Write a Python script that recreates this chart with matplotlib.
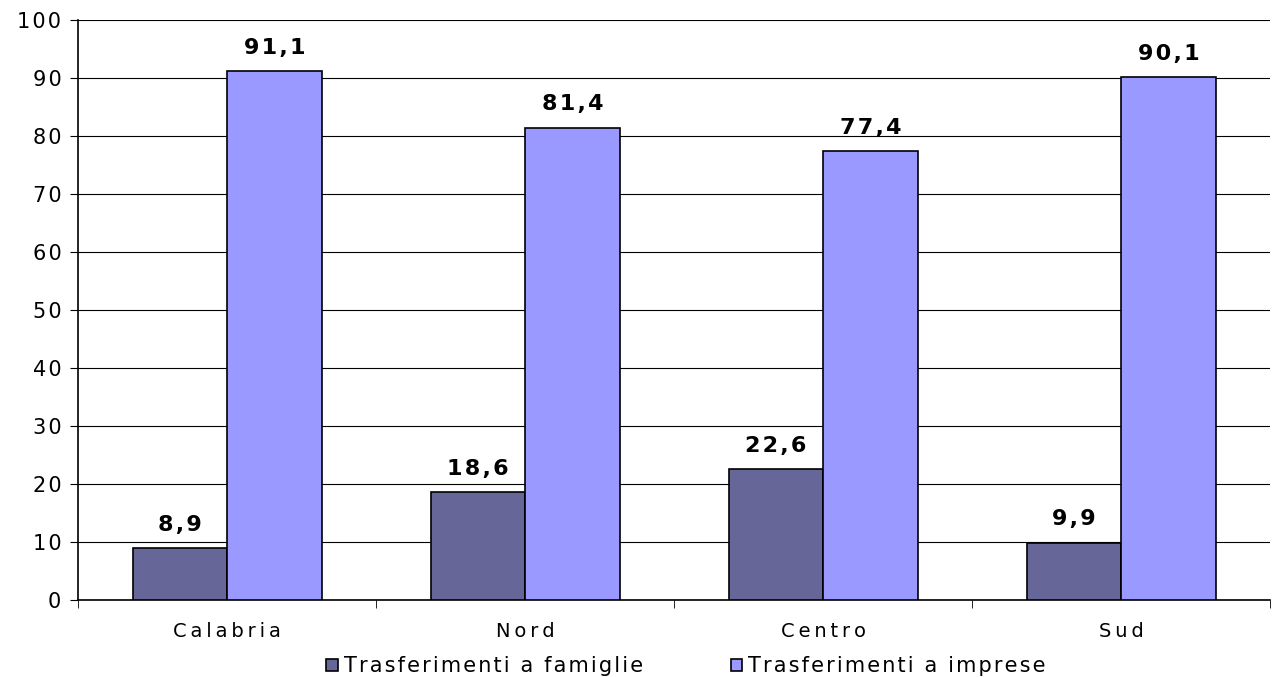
import numpy as np
import matplotlib
matplotlib.use("Agg")
import matplotlib.pyplot as plt

categories = ["Calabria", "Nord", "Centro", "Sud"]
famiglie = [8.9, 18.6, 22.6, 9.9]
imprese = [91.1, 81.4, 77.4, 90.1]
series_names = ["Trasferimenti a famiglie", "Trasferimenti a imprese"]

plt.rcParams['font.family'] = ['DejaVu Sans']


def spaced(s, sp='\u2009'):
    # the reference text is letter-spaced (Verdana-like)
    return sp.join(s)


fig = plt.figure(figsize=(12.73, 6.77), dpi=100)
ax = fig.add_axes([0.0613, 0.1137, 0.9365, 0.857])

x = np.arange(len(categories))
w = 0.317
b1 = ax.bar(x - w/2, famiglie, w, color='#666699', edgecolor='black', linewidth=1.2,
            label=spaced(series_names[0], '\u200a'), zorder=3)
b2 = ax.bar(x + w/2, imprese, w, color='#9999FF', edgecolor='black', linewidth=1.2,
            label=spaced(series_names[1], '\u200a'), zorder=3)

for bars, vals in [(b1, famiglie), (b2, imprese)]:
    for r, v in zip(bars, vals):
        ax.text(r.get_x() + r.get_width()/2, v + 2.3, spaced(f"{v:.1f}".replace('.', ','), '\u200a'),
                ha='center', va='bottom', fontsize=16, fontweight='bold')

ax.set_xlim(-0.5, 3.5)
ax.set_ylim(0, 100)
ax.set_yticks(range(0, 101, 10))
ax.set_yticklabels([spaced(str(v), '\u200a') for v in range(0, 101, 10)])
ax.yaxis.grid(True, color='black', linewidth=0.8, zorder=0)
ax.set_axisbelow(True)
ax.set_xticks(x)
ax.set_xticklabels([spaced(c) for c in categories], fontsize=14)
ax.tick_params(axis='x', length=0, pad=16)
ax.set_xticks(np.arange(-0.5, 4, 1), minor=True)
ax.tick_params(axis='x', which='minor', length=6, direction='out')
ax.tick_params(axis='y', labelsize=15, length=6, direction='out', pad=6)
for s in ['top', 'right']:
    ax.spines[s].set_visible(False)
ax.spines['left'].set_linewidth(1.2)
ax.spines['bottom'].set_linewidth(1.2)

ax.legend(loc='upper center', bbox_to_anchor=(0.51, -0.065), ncol=2, frameon=False,
          fontsize=15, handlelength=0.55, handleheight=0.55, handletextpad=0.3,
          columnspacing=4.2)

fig.savefig("out.png", dpi=100)
